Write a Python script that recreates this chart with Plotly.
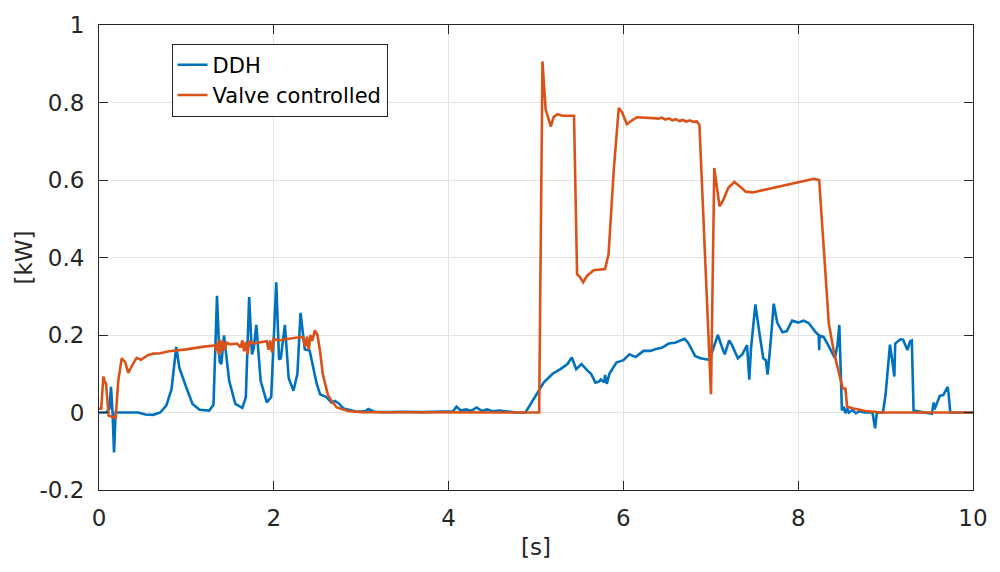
import plotly.graph_objects as go

# Time axis [s] and power [kW] for the direct-driven hydraulics (DDH) drive
t_ddh = [
    0.00, 0.08, 0.12, 0.137, 0.155, 0.172, 0.19, 0.28, 0.45, 0.53, 0.62, 0.70,
    0.77, 0.83, 0.884, 0.92, 0.95, 1.00, 1.07, 1.15, 1.26, 1.31, 1.35, 1.38,
    1.40, 1.43, 1.49, 1.56, 1.64, 1.68, 1.718, 1.75, 1.77, 1.80, 1.85, 1.92,
    1.97, 2.028, 2.06, 2.08, 2.127, 2.17, 2.225, 2.27, 2.306, 2.355, 2.41, 2.45,
    2.49, 2.53, 2.60, 2.66, 2.70, 2.74, 2.80, 2.95, 3.05, 3.08, 3.15, 3.30,
    3.50, 3.70, 3.90, 4.05, 4.09, 4.14, 4.20, 4.26, 4.32, 4.38, 4.44, 4.50,
    4.58, 4.70, 4.78, 4.88, 4.95, 5.02, 5.09, 5.19, 5.28, 5.36, 5.41, 5.46,
    5.52, 5.59, 5.63, 5.68, 5.72, 5.74, 5.78, 5.79, 5.81, 5.84, 5.92, 6.00,
    6.07, 6.14, 6.23, 6.31, 6.37, 6.44, 6.52, 6.59, 6.70, 6.74, 6.82, 6.88,
    6.98, 7.01, 7.08, 7.14, 7.16, 7.21, 7.24, 7.31, 7.36, 7.415, 7.44, 7.46,
    7.51, 7.555, 7.60, 7.63, 7.65, 7.68, 7.72, 7.76, 7.82, 7.87, 7.93, 8.00,
    8.06, 8.12, 8.20, 8.235, 8.24, 8.245, 8.29, 8.34, 8.39, 8.42, 8.45, 8.47,
    8.485, 8.50, 8.52, 8.54, 8.56, 8.58, 8.62, 8.66, 8.70, 8.76, 8.85, 8.88,
    8.90, 8.97, 9.00, 9.05, 9.08, 9.10, 9.11, 9.17, 9.20, 9.25, 9.28, 9.30,
    9.32, 9.45, 9.53, 9.55, 9.56, 9.62, 9.66, 9.71, 9.72, 9.74, 10.00,
]
p_ddh = [
    0.000, 0.000, 0.010, 0.066, 0.000, -0.103, 0.000, 0.000, 0.000, -0.005, -0.006, 0.000,
    0.018, 0.060, 0.169, 0.115, 0.095, 0.064, 0.022, 0.007, 0.005, 0.020, 0.301, 0.131,
    0.125, 0.199, 0.081, 0.022, 0.012, 0.039, 0.298, 0.150, 0.165, 0.226, 0.081, 0.026,
    0.040, 0.336, 0.137, 0.140, 0.226, 0.089, 0.056, 0.100, 0.257, 0.163, 0.160, 0.120,
    0.075, 0.047, 0.040, 0.026, 0.030, 0.024, 0.010, 0.002, 0.004, 0.009, 0.002, 0.001,
    0.002, 0.001, 0.002, 0.003, 0.015, 0.005, 0.008, 0.004, 0.013, 0.004, 0.008, 0.003,
    0.005, 0.002, 0.000, 0.000, 0.025, 0.053, 0.078, 0.100, 0.112, 0.125, 0.142, 0.112,
    0.125, 0.108, 0.100, 0.077, 0.080, 0.085, 0.078, 0.097, 0.074, 0.100, 0.129, 0.135,
    0.150, 0.143, 0.159, 0.159, 0.164, 0.167, 0.178, 0.180, 0.190, 0.180, 0.146, 0.140,
    0.136, 0.152, 0.200, 0.161, 0.150, 0.186, 0.175, 0.140, 0.150, 0.174, 0.085, 0.165,
    0.279, 0.207, 0.140, 0.135, 0.098, 0.170, 0.281, 0.232, 0.207, 0.210, 0.237, 0.232,
    0.237, 0.231, 0.207, 0.200, 0.161, 0.198, 0.195, 0.175, 0.152, 0.140, 0.175, 0.226,
    0.120, 0.005, 0.015, -0.002, 0.010, 0.000, 0.006, -0.002, 0.003, 0.000, 0.000, -0.041,
    0.000, 0.000, 0.047, 0.175, 0.127, 0.093, 0.178, 0.189, 0.188, 0.161, 0.184, 0.186,
    0.005, -0.001, -0.003, 0.026, 0.008, 0.043, 0.045, 0.066, 0.050, 0.000, 0.000,
]

# Time axis [s] and power [kW] for the valve-controlled drive
t_valve = [
    0.000, 0.025, 0.05, 0.065, 0.08, 0.11, 0.165, 0.19, 0.22, 0.26, 0.30, 0.335,
    0.37, 0.43, 0.48, 0.56, 0.62, 0.70, 0.80, 1.00, 1.20, 1.33, 1.34, 1.355,
    1.37, 1.385, 1.40, 1.42, 1.44, 1.46, 1.50, 1.58, 1.62, 1.64, 1.66, 1.68,
    1.70, 1.72, 1.76, 1.85, 1.92, 1.94, 1.96, 1.98, 2.00, 2.05, 2.15, 2.25,
    2.33, 2.36, 2.38, 2.40, 2.42, 2.44, 2.47, 2.50, 2.53, 2.56, 2.58, 2.62,
    2.66, 2.72, 2.85, 3.00, 5.00, 5.036, 5.074, 5.11, 5.17, 5.20, 5.245, 5.30,
    5.435, 5.47, 5.505, 5.54, 5.585, 5.66, 5.79, 5.83, 5.89, 5.947, 5.984, 6.04,
    6.10, 6.155, 6.38, 6.40, 6.44, 6.48, 6.52, 6.56, 6.60, 6.64, 6.68, 6.72,
    6.76, 6.80, 6.84, 6.87, 7.002, 7.04, 7.10, 7.14, 7.20, 7.27, 7.35, 7.40,
    7.48, 8.18, 8.24, 8.28, 8.32, 8.35, 8.41, 8.47, 8.51, 8.54, 8.56, 8.62,
    8.77, 8.96, 10.00,
]
p_valve = [
    0.010, 0.010, 0.093, 0.080, 0.075, -0.008, -0.012, -0.016, 0.081, 0.140, 0.130, 0.102,
    0.118, 0.141, 0.136, 0.148, 0.152, 0.153, 0.158, 0.163, 0.170, 0.173, 0.160, 0.182,
    0.150, 0.188, 0.155, 0.185, 0.162, 0.180, 0.176, 0.178, 0.168, 0.186, 0.158, 0.182,
    0.150, 0.185, 0.178, 0.182, 0.184, 0.162, 0.186, 0.155, 0.190, 0.186, 0.190, 0.193,
    0.195, 0.170, 0.196, 0.162, 0.200, 0.185, 0.212, 0.200, 0.157, 0.100, 0.081, 0.045,
    0.030, 0.013, 0.004, 0.001, 0.000, 0.000, 0.906, 0.783, 0.738, 0.762, 0.770, 0.766,
    0.766, 0.357, 0.349, 0.336, 0.353, 0.367, 0.370, 0.408, 0.627, 0.786, 0.775, 0.744,
    0.754, 0.762, 0.759, 0.758, 0.761, 0.756, 0.759, 0.754, 0.757, 0.752, 0.755, 0.751,
    0.754, 0.750, 0.751, 0.742, 0.047, 0.631, 0.532, 0.547, 0.580, 0.595, 0.580, 0.570,
    0.568, 0.603, 0.600, 0.458, 0.315, 0.230, 0.154, 0.095, 0.062, 0.062, 0.015, 0.011,
    0.004, 0.000, 0.000,
]

x_ticks = [0, 2, 4, 6, 8, 10]
x_tick_text = ["0", "2", "4", "6", "8", "10"]
y_ticks = [-0.2, 0, 0.2, 0.4, 0.6, 0.8, 1]
y_tick_text = ["-0.2", "0", "0.2", "0.4", "0.6", "0.8", "1"]

BLUE = "#0072BD"
ORANGE = "#D95319"
AXIS = "#262626"
GRID = "#e3e3e3"
FONT = "DejaVu Sans, Arial, sans-serif"

fig = go.Figure()
fig.add_trace(go.Scatter(x=t_ddh, y=p_ddh, mode="lines", name="DDH",
                         line=dict(color=BLUE, width=2.6)))
fig.add_trace(go.Scatter(x=t_valve, y=p_valve, mode="lines", name="Valve controlled",
                         line=dict(color=ORANGE, width=2.6)))

axis_common = dict(
    showline=True, linecolor=AXIS, linewidth=1, mirror="ticks",
    ticks="inside", ticklen=9, tickcolor=AXIS, tickwidth=1,
    showgrid=True, gridcolor=GRID, gridwidth=1, zeroline=False,
    tickfont=dict(family=FONT, size=23, color=AXIS),
)

fig.update_xaxes(range=[0, 10], tickvals=x_ticks, ticktext=x_tick_text,
                 ticklabelstandoff=7,
                 title=dict(text="[s]", font=dict(family=FONT, size=23, color=AXIS), standoff=9),
                 **axis_common)
fig.update_yaxes(range=[-0.2, 1], tickvals=y_ticks, ticktext=y_tick_text,
                 ticklabelstandoff=9,
                 title=dict(text="[kW]", font=dict(family=FONT, size=23, color=AXIS), standoff=0),
                 **axis_common)

fig.update_layout(
    width=1000, height=572,
    margin=dict(l=99, r=22, t=16, b=82),
    plot_bgcolor="white", paper_bgcolor="white",
    font=dict(family=FONT, color=AXIS),
    legend=dict(x=0.083, y=0.96, xanchor="left", yanchor="top",
                bgcolor="white", bordercolor=AXIS, borderwidth=1,
                font=dict(family=FONT, size=21, color="black"),
                itemwidth=30, tracegroupgap=0),
    showlegend=True,
)

fig.write_html("out.html")
